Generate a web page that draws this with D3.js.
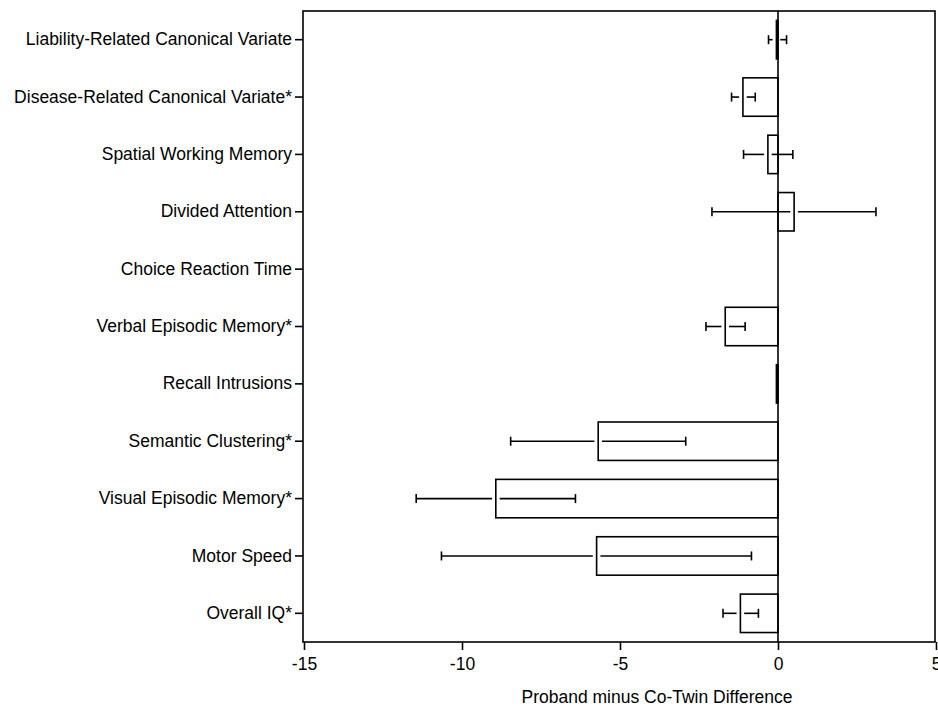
<!DOCTYPE html>
<html>
<head>
<meta charset="utf-8">
<script src="https://cdn.jsdelivr.net/npm/d3@7"></script>
<style>
  body { margin: 0; background: #fff; }
  svg { display: block; }
  text { font-family: "Liberation Sans", Arial, sans-serif; fill: #000; }
</style>
</head>
<body>
<svg id="chart" width="938" height="713"></svg>
<script>
// measures, top to bottom
const measures = [
  "Liability-Related Canonical Variate",
  "Disease-Related Canonical Variate*",
  "Spatial Working Memory",
  "Divided Attention",
  "Choice Reaction Time",
  "Verbal Episodic Memory*",
  "Recall Intrusions",
  "Semantic Clustering*",
  "Visual Episodic Memory*",
  "Motor Speed",
  "Overall IQ*"
];
// mean proband minus co-twin difference
const meanDiff = [-0.05, -1.11, -0.32, 0.51, 0, -1.67, -0.05, -5.69, -8.93, -5.74, -1.19];
// confidence limits (null = none drawn)
const lowerCI = [-0.30, -1.47, -1.09, -2.09, null, -2.28, null, -8.46, -11.45, -10.65, -1.74];
const upperCI = [0.27, -0.72, 0.47, 3.10, null, -1.04, null, -2.92, -6.41, -0.84, -0.62];
const xTicks = [-15, -10, -5, 0, 5];

const rows = measures.map((m, i) => ({
  name: m, mean: meanDiff[i], lo: lowerCI[i], hi: upperCI[i]
}));

const svg = d3.select("#chart");
const plotL = 303, plotR = 935, plotT = 11, plotB = 642;
const fs = "17.5px";

const x = d3.scaleLinear().domain([-15, 5]).range([plotL + 1, plotR + 1]);
const y = d3.scaleBand().domain(measures).range([plotT, plotB])
  .paddingInner(0.33).paddingOuter(0.165);

// bars
svg.append("g").selectAll("rect")
  .data(rows)
  .join("rect")
  .attr("x", d => x(Math.min(0, d.mean)))
  .attr("width", d => Math.abs(x(d.mean) - x(0)))
  .attr("y", d => y(d.name))
  .attr("height", y.bandwidth())
  .attr("fill", "#fff")
  .attr("stroke", "#000")
  .attr("stroke-width", 1.6);

// error bars, broken around the mean like the original
const gap = 3.8, cap = 4.5;
const err = svg.append("g").attr("stroke", "#000").attr("stroke-width", 1.6);
rows.filter(d => d.lo != null).forEach(d => {
  const cy = y(d.name) + y.bandwidth() / 2;
  const xm = x(d.mean), xl = x(d.lo), xh = x(d.hi);
  if (xm - gap > xl) err.append("line").attr("x1", xl).attr("x2", xm - gap).attr("y1", cy).attr("y2", cy);
  if (xm + gap < xh) err.append("line").attr("x1", xm + gap).attr("x2", xh).attr("y1", cy).attr("y2", cy);
  [xl, xh].forEach(cx => {
    err.append("line").attr("x1", cx).attr("x2", cx).attr("y1", cy - cap).attr("y2", cy + cap);
  });
});

// zero line
svg.append("line")
  .attr("x1", x(0)).attr("x2", x(0))
  .attr("y1", plotT).attr("y2", plotB)
  .attr("stroke", "#000").attr("stroke-width", 1.6);

// frame
svg.append("rect")
  .attr("x", plotL).attr("y", plotT)
  .attr("width", plotR - plotL).attr("height", plotB - plotT)
  .attr("fill", "none").attr("stroke", "#000").attr("stroke-width", 1.6);

// y axis
const yAxis = svg.append("g")
  .attr("transform", `translate(${plotL},0)`)
  .call(d3.axisLeft(y).tickSize(8).tickSizeOuter(0).tickPadding(3));
yAxis.select(".domain").remove();
yAxis.selectAll("line").attr("stroke-width", 1.6);
yAxis.selectAll("text").style("font-size", fs).attr("font-family", null);

// x axis (plain hyphen minus like the original)
const xAxis = svg.append("g")
  .attr("transform", `translate(0,${plotB})`)
  .call(d3.axisBottom(x).tickValues(xTicks).tickFormat(d => String(d))
    .tickSize(8).tickSizeOuter(0).tickPadding(8));
xAxis.select(".domain").remove();
xAxis.selectAll("line").attr("stroke-width", 1.6);
xAxis.selectAll("text").style("font-size", fs).attr("font-family", null);

svg.append("text")
  .attr("x", 657).attr("y", 703)
  .attr("text-anchor", "middle")
  .style("font-size", fs)
  .text("Proband minus Co-Twin Difference");
</script>
</body>
</html>
